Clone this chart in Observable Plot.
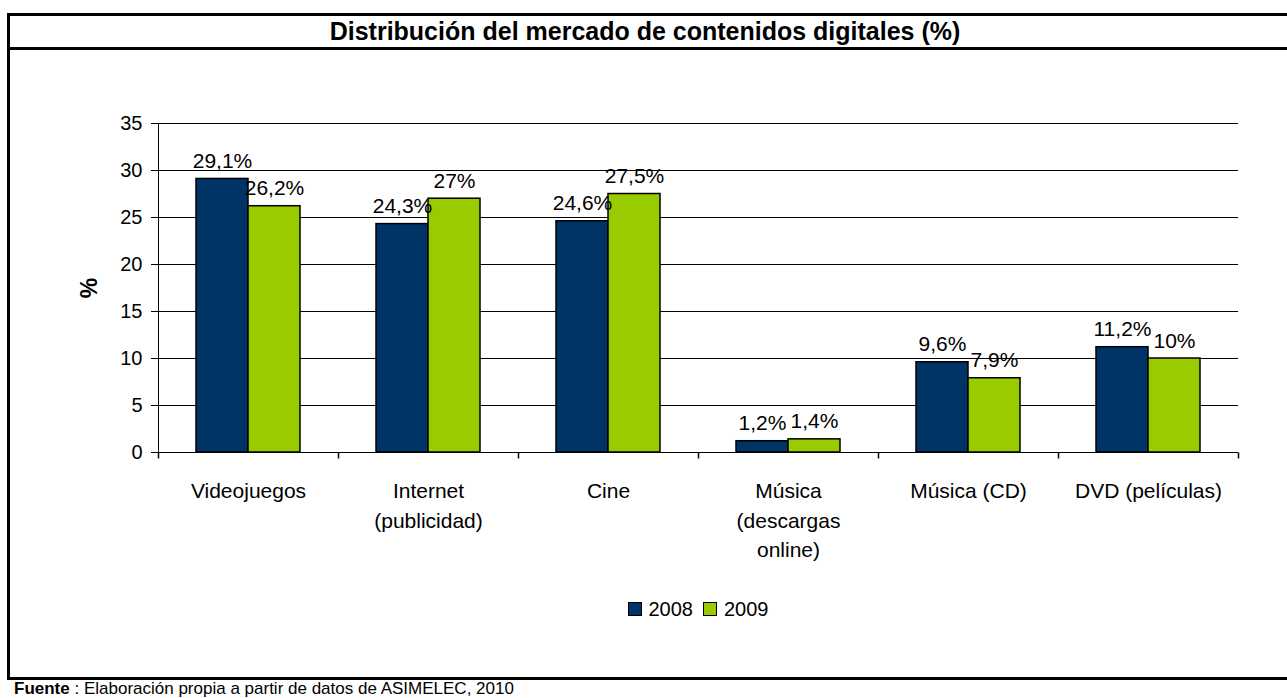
<!DOCTYPE html>
<html>
<head>
<meta charset="utf-8">
<script src="https://cdn.jsdelivr.net/npm/d3@7"></script>
<script src="https://cdn.jsdelivr.net/npm/@observablehq/plot@0.6"></script>
<style>
  html, body { margin: 0; padding: 0; background: #fff; width: 1287px; height: 698px; overflow: hidden;
    font-family: "Liberation Sans", Arial, sans-serif; color: #000; }
  #frame { position: absolute; left: 7px; top: 13px; width: 1400px; height: 667px; box-sizing: border-box;
    border: 3px solid #000; border-right: none; }
  #titlebar { position: absolute; left: 7px; top: 13px; width: 1400px; height: 37px; box-sizing: border-box;
    border-bottom: 3px solid #000; }
  #title { position: absolute; left: 7px; width: 1276px; top: 16px; height: 31px; line-height: 31px;
    text-align: center; font-weight: bold; font-size: 25px; }
  #chart { position: absolute; left: 0; top: 60px; }
  #legend { position: absolute; left: 156px; width: 1084px; top: 599px; height: 20px; display: flex;
    justify-content: center; align-items: center; font-size: 20px; line-height: 20px; }
  #legend .sw { display: inline-block; width: 14px; height: 14px; box-sizing: border-box; border: 1.5px solid #000;
    margin-right: 7px; }
  #legend .item { display: flex; align-items: center; margin: 0 5px; }
  #footer { position: absolute; left: 14px; top: 680px; font-size: 17px; line-height: 18px; white-space: nowrap; }
  #chart svg [aria-label="y-axis label"] text { font-weight: bold; font-size: 23px; }
</style>
</head>
<body>
<div id="frame"></div>
<div id="titlebar"></div>
<div id="title">Distribución del mercado de contenidos digitales (%)</div>
<div id="chart"></div>
<div id="legend"></div>
<div id="footer"><b>Fuente</b> : Elaboración propia a partir de datos de ASIMELEC, 2010</div>
<script>
const categories = ["Videojuegos", "Internet (publicidad)", "Cine", "Música (descargas online)", "Música (CD)", "DVD (películas)"];
const categoryLabels = ["Videojuegos", "Internet\n(publicidad)", "Cine", "Música\n(descargas\nonline)", "Música (CD)", "DVD (películas)"];
const years = ["2008", "2009"];
const values2008 = [29.1, 24.3, 24.6, 1.2, 9.6, 11.2];
const values2009 = [26.2, 27, 27.5, 1.4, 7.9, 10];
const yTicks = [0, 5, 10, 15, 20, 25, 30, 35];
const colors = ["#003366", "#99cc00"];

const rows = categories.flatMap((c, i) => [
  {category: c, year: years[0], value: values2008[i]},
  {category: c, year: years[1], value: values2009[i]}
]);
const labelOf = new Map(categories.map((c, i) => [c, categoryLabels[i]]));

// small vertical tick glyph (length = r), drawn downward from anchor
const tickSymbol = {draw(ctx, size) { const r = Math.sqrt(size / Math.PI); ctx.moveTo(0, 0); ctx.lineTo(0, r); }};

const chart = Plot.plot({
  width: 1287, height: 520,
  marginLeft: 156, marginRight: 47, marginTop: 63, marginBottom: 128,
  style: {fontFamily: '"Liberation Sans", Arial, sans-serif', fontSize: "20px", color: "#000", background: "transparent", overflow: "visible"},
  fx: {domain: categories, padding: 0, label: null},
  x: {domain: years, paddingInner: 0, paddingOuter: 0.72, axis: null},
  y: {domain: [0, 35], label: "%"},
  color: {domain: years, range: colors},
  marks: [
    Plot.gridY(yTicks, {stroke: "#000", strokeOpacity: 1, strokeWidth: 1}),
    Plot.frame({anchor: "left", facetAnchor: "left", stroke: "#000"}),
    Plot.axisY(yTicks, {tickSize: 7, tickPadding: 9, fontSize: 20, label: "%", labelAnchor: "center", labelOffset: 78, labelArrow: "none"}),
    Plot.axisFx({anchor: "bottom", tickSize: 0, tickPadding: 25, fontSize: 21, lineHeight: 1.4, tickFormat: c => labelOf.get(c), label: null}),
    Plot.dot(categories, {fx: d => d, frameAnchor: "bottom-left", symbol: tickSymbol, r: 6, stroke: "#000", fill: "none"}),
    Plot.dot(categories.slice(-1), {fx: d => d, frameAnchor: "bottom-right", symbol: tickSymbol, r: 6, stroke: "#000", fill: "none"}),
    Plot.barY(rows, {fx: "category", x: "year", y: "value", fill: "year", stroke: "#000", strokeWidth: 1.5}),
    Plot.text(rows, {fx: "category", x: "year", y: "value", text: d => String(d.value).replace(".", ",") + "%", lineAnchor: "bottom", dy: -11, fontSize: 21})
  ]
});
document.getElementById("chart").appendChild(chart);

const legend = document.getElementById("legend");
years.forEach((y, i) => {
  const item = document.createElement("span");
  item.className = "item";
  const sw = document.createElement("span");
  sw.className = "sw";
  sw.style.background = colors[i];
  item.appendChild(sw);
  item.appendChild(document.createTextNode(y));
  legend.appendChild(item);
});
</script>
</body>
</html>
